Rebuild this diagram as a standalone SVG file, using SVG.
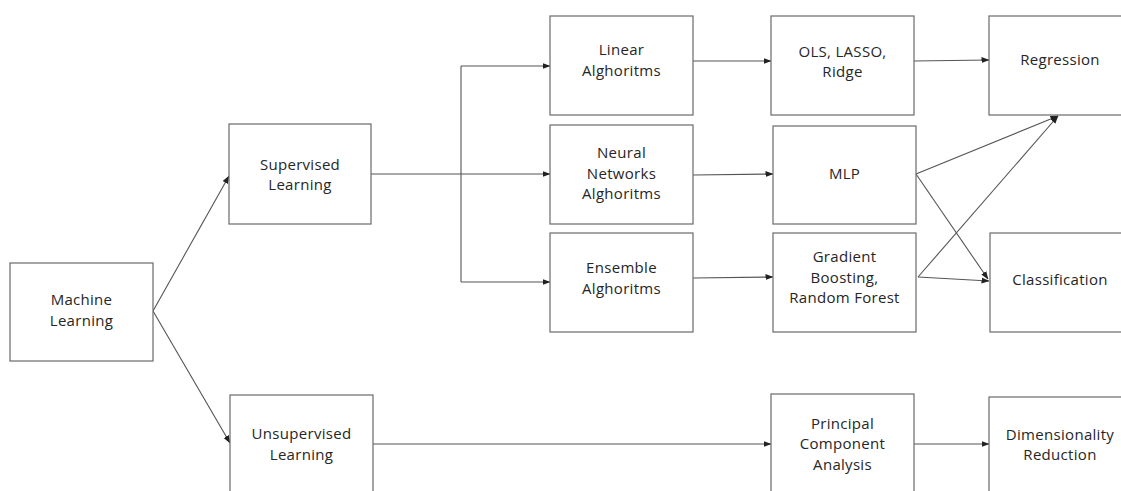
<svg xmlns="http://www.w3.org/2000/svg" width="1121" height="491" viewBox="0 0 1121 491">
<style>
.box{fill:#fff;stroke:#6a6a6a;stroke-width:1.2}
.lbl{font-family:"Open Sans",Lato,sans-serif;font-size:15px;letter-spacing:0.3px;fill:#262626;text-anchor:middle}
.c{fill:none;stroke:#555;stroke-width:1.1}
.a{marker-end:url(#arr)}
</style>
<defs>
<marker id="arr" viewBox="0 0 8 8" refX="7.5" refY="4" markerWidth="8" markerHeight="8" markerUnits="userSpaceOnUse" orient="auto">
<path d="M0,1 L8,4 L0,7 Z" fill="#222"/>
</marker>
</defs>
<rect width="1121" height="491" fill="#fff"/>
<g id="connectors">
<path class="c a" d="M153,311 L229,176"/>
<path class="c a" d="M153,311 L230,443"/>
<path class="c" d="M371,174 L461,174"/>
<path class="c" d="M461,66 L461,282"/>
<path class="c a" d="M461,66 L550,66"/>
<path class="c a" d="M461,174 L550,174"/>
<path class="c a" d="M461,282 L550,282"/>
<path class="c a" d="M693,61 L771,61"/>
<path class="c a" d="M914,61 L989,60"/>
<path class="c a" d="M693,175 L773,174"/>
<path class="c a" d="M693,278 L773,277"/>
<path class="c a" d="M916,174 L1058,116"/>
<path class="c a" d="M916,174 L988,279"/>
<path class="c a" d="M918,277 L1058,116"/>
<path class="c a" d="M918,277 L989,281"/>
<path class="c a" d="M373,444 L771,444"/>
<path class="c a" d="M914,444 L989,444"/>
</g>
<g id="machine-learning"><rect class="box" x="10" y="263" width="143" height="98"/><text class="lbl" x="81.5" y="305">Machine</text><text class="lbl" x="81.5" y="325.5">Learning</text></g>
<g id="supervised"><rect class="box" x="229" y="124" width="142" height="100"/><text class="lbl" x="300" y="169.7">Supervised</text><text class="lbl" x="300" y="190.2">Learning</text></g>
<g id="linear"><rect class="box" x="550" y="16" width="143" height="99"/><text class="lbl" x="621.5" y="55.2">Linear</text><text class="lbl" x="621.5" y="75.7">Alghoritms</text></g>
<g id="neural"><rect class="box" x="550" y="125" width="143" height="99"/><text class="lbl" x="621.5" y="158">Neural</text><text class="lbl" x="621.5" y="178.5">Networks</text><text class="lbl" x="621.5" y="199">Alghoritms</text></g>
<g id="ensemble"><rect class="box" x="550" y="233" width="143" height="99"/><text class="lbl" x="621.5" y="273.2">Ensemble</text><text class="lbl" x="621.5" y="293.7">Alghoritms</text></g>
<g id="ols"><rect class="box" x="771" y="16" width="143" height="99"/><text class="lbl" x="842.5" y="56.7">OLS, LASSO,</text><text class="lbl" x="842.5" y="77.2">Ridge</text></g>
<g id="mlp"><rect class="box" x="773" y="126" width="143" height="98"/><text class="lbl" x="844.5" y="179.4">MLP</text></g>
<g id="gradient"><rect class="box" x="773" y="233" width="143" height="99"/><text class="lbl" x="844.5" y="262.4">Gradient</text><text class="lbl" x="844.5" y="282.9">Boosting,</text><text class="lbl" x="844.5" y="303.4">Random Forest</text></g>
<g id="regression"><rect class="box" x="989" y="16" width="142" height="99"/><text class="lbl" x="1060" y="65.4">Regression</text></g>
<g id="classification"><rect class="box" x="990" y="233" width="142" height="99"/><text class="lbl" x="1060" y="285.4">Classification</text></g>
<g id="unsupervised"><rect class="box" x="230" y="395" width="143" height="120"/><text class="lbl" x="301.5" y="439.2">Unsupervised</text><text class="lbl" x="301.5" y="459.7">Learning</text></g>
<g id="pca"><rect class="box" x="771" y="394" width="143" height="120"/><text class="lbl" x="842.5" y="428.9">Principal</text><text class="lbl" x="842.5" y="449.4">Component</text><text class="lbl" x="842.5" y="469.9">Analysis</text></g>
<g id="dimensionality"><rect class="box" x="989" y="397" width="142" height="120"/><text class="lbl" x="1060" y="439.7">Dimensionality</text><text class="lbl" x="1060" y="460.2">Reduction</text></g>
</svg>
